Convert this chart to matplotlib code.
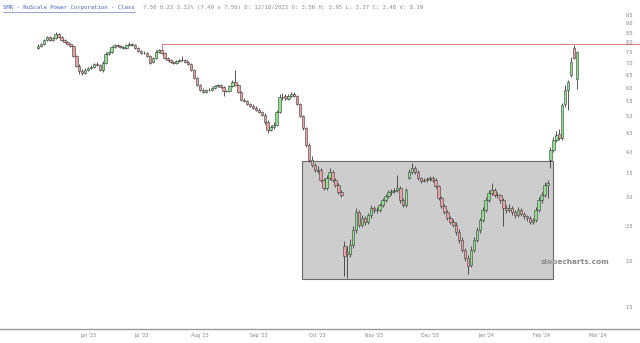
import numpy as np
import matplotlib
matplotlib.use('Agg')
import matplotlib.pyplot as plt
from matplotlib.patches import Rectangle
from matplotlib.ticker import FixedLocator, NullLocator

# Daily OHLC candles
opens = [7.70, 7.81, 7.90, 8.10, 8.27, 8.12, 8.20, 8.42, 8.27, 8.10, 8.02, 7.92, 7.80, 7.33, 6.90, 6.68,
         6.58, 6.72, 6.80, 6.85, 6.96, 6.92, 6.72, 7.02, 7.44, 7.52, 7.76, 7.86, 7.81, 7.76, 7.70, 7.86,
         7.91, 7.86, 7.70, 7.56, 7.46, 7.47, 7.33, 7.05, 7.24, 7.52, 7.60, 7.47, 7.25, 7.14, 7.06, 7.02,
         7.10, 7.15, 7.15, 7.06, 6.97, 6.71, 6.38, 6.10, 5.92, 5.84, 5.91, 5.90, 5.99, 6.06, 6.10, 6.02,
         5.87, 5.87, 6.06, 6.22, 6.10, 5.84, 5.56, 5.52, 5.41, 5.35, 5.28, 5.21, 5.14, 5.05, 4.83, 4.59,
         4.68, 4.74, 5.14, 5.66, 5.68, 5.60, 5.70, 5.78, 5.70, 5.41, 5.02, 4.65, 4.18, 3.80, 3.68, 3.55,
         3.57, 3.35, 3.18, 3.39, 3.52, 3.35, 3.24, 3.10, 2.20, 2.12, 2.10, 2.22, 2.44, 2.73, 2.52, 2.63,
         2.57, 2.68, 2.81, 2.76, 2.77, 2.86, 2.95, 3.02, 3.10, 3.12, 3.14, 3.18, 2.95, 2.86, 3.40, 3.52,
         3.61, 3.52, 3.39, 3.33, 3.35, 3.37, 3.40, 3.35, 3.22, 2.99, 2.84, 2.73, 2.63, 2.57, 2.52, 2.41,
         2.29, 2.15, 2.05, 1.96, 2.15, 2.29, 2.44, 2.60, 2.77, 2.95, 3.08, 3.14, 3.04, 3.04, 2.95, 2.81,
         2.77, 2.81, 2.73, 2.68, 2.77, 2.70, 2.66, 2.63, 2.57, 2.60, 2.77, 2.95, 3.04, 3.24, 3.80, 4.05,
         4.31, 4.48, 4.36, 5.40, 5.91, 6.50, 7.70, 6.35]
highs = [7.90, 7.95, 8.15, 8.30, 8.30, 8.25, 8.55, 8.45, 8.32, 8.15, 8.08, 7.98, 7.85, 7.38, 6.98, 6.75,
         6.78, 6.85, 6.92, 7.02, 7.05, 6.95, 7.08, 7.50, 7.58, 7.82, 7.92, 7.92, 7.86, 7.80, 7.90, 8.00,
         7.95, 7.90, 7.74, 7.62, 7.55, 7.52, 7.38, 7.30, 7.60, 7.68, 7.65, 7.50, 7.30, 7.20, 7.12, 7.15,
         7.20, 7.35, 7.18, 7.10, 7.00, 6.75, 6.42, 6.14, 5.98, 5.95, 5.98, 6.02, 6.10, 6.15, 6.14, 6.05,
         5.92, 6.10, 6.28, 6.70, 6.14, 5.88, 5.62, 5.55, 5.46, 5.40, 5.33, 5.26, 5.18, 5.10, 4.88, 4.74,
         4.82, 5.20, 5.75, 5.80, 5.75, 5.76, 5.84, 5.82, 5.73, 5.45, 5.06, 4.69, 4.22, 3.90, 3.72, 3.66,
         3.60, 3.38, 3.45, 3.62, 3.56, 3.40, 3.28, 3.14, 2.28, 2.20, 2.30, 2.50, 2.80, 2.76, 2.68, 2.66,
         2.72, 2.86, 2.84, 2.82, 2.90, 2.99, 3.06, 3.14, 3.16, 3.18, 3.45, 3.22, 2.98, 3.18, 3.58, 3.72,
         3.66, 3.56, 3.42, 3.40, 3.42, 3.44, 3.43, 3.38, 3.25, 3.02, 2.88, 2.77, 2.67, 2.61, 2.56, 2.45,
         2.33, 2.18, 2.08, 2.20, 2.34, 2.48, 2.64, 2.82, 3.00, 3.14, 3.28, 3.18, 3.10, 3.07, 2.98, 2.86,
         2.88, 2.84, 2.76, 2.82, 2.80, 2.73, 2.69, 2.66, 2.64, 2.82, 3.00, 3.10, 3.30, 3.34, 4.12, 4.38,
         4.55, 4.62, 5.45, 6.10, 6.30, 7.30, 7.85, 7.55]
lows = [7.65, 7.78, 7.85, 8.05, 8.05, 8.05, 8.15, 8.20, 8.05, 7.95, 7.85, 7.75, 7.28, 6.85, 6.55, 6.50,
        6.55, 6.68, 6.76, 6.80, 6.88, 6.65, 6.62, 6.98, 7.38, 7.48, 7.72, 7.75, 7.70, 7.65, 7.66, 7.82,
        7.80, 7.66, 7.50, 7.42, 7.40, 7.28, 6.95, 7.00, 7.20, 7.48, 7.42, 7.20, 7.10, 7.02, 6.98, 6.98,
        7.06, 7.10, 7.00, 6.92, 6.66, 6.34, 6.06, 5.88, 5.80, 5.80, 5.86, 5.86, 5.95, 6.02, 5.98, 5.70,
        5.82, 5.84, 6.02, 6.06, 5.80, 5.50, 5.48, 5.36, 5.30, 5.24, 5.17, 5.10, 5.00, 4.78, 4.50, 4.55,
        4.62, 4.70, 5.10, 5.55, 5.55, 5.56, 5.66, 5.65, 5.36, 4.97, 4.60, 4.13, 3.76, 3.64, 3.52, 3.50,
        3.30, 3.14, 3.14, 3.35, 3.30, 3.20, 3.06, 3.00, 1.82, 1.80, 2.06, 2.18, 2.40, 2.48, 2.48, 2.52,
        2.54, 2.64, 2.72, 2.72, 2.74, 2.82, 2.91, 2.98, 3.05, 3.08, 3.10, 2.90, 2.82, 2.83, 3.36, 3.48,
        3.47, 3.34, 3.28, 3.30, 3.31, 3.33, 3.30, 3.18, 2.95, 2.80, 2.70, 2.60, 2.54, 2.48, 2.37, 2.25,
        2.12, 2.00, 1.85, 1.93, 2.12, 2.26, 2.40, 2.56, 2.74, 2.92, 3.04, 3.00, 2.98, 2.90, 2.50, 2.72,
        2.74, 2.69, 2.64, 2.65, 2.66, 2.62, 2.58, 2.53, 2.54, 2.57, 2.74, 2.90, 3.00, 2.98, 3.62, 4.00,
        4.26, 4.30, 4.32, 5.30, 5.20, 6.40, 7.20, 5.95]
closes = [7.81, 7.91, 8.11, 8.27, 8.11, 8.21, 8.42, 8.27, 8.11, 8.01, 7.91, 7.81, 7.33, 6.89, 6.67, 6.58,
          6.71, 6.80, 6.84, 6.97, 6.93, 6.71, 7.02, 7.43, 7.52, 7.76, 7.86, 7.81, 7.76, 7.71, 7.86, 7.91,
          7.86, 7.71, 7.56, 7.47, 7.47, 7.33, 7.02, 7.24, 7.52, 7.61, 7.47, 7.24, 7.15, 7.06, 7.02, 7.11,
          7.15, 7.15, 7.06, 6.97, 6.71, 6.38, 6.10, 5.91, 5.84, 5.91, 5.91, 5.99, 6.06, 6.10, 6.02, 5.87,
          5.87, 6.06, 6.22, 6.10, 5.84, 5.55, 5.52, 5.41, 5.35, 5.28, 5.21, 5.14, 5.05, 4.83, 4.59, 4.68,
          4.74, 5.14, 5.66, 5.66, 5.62, 5.70, 5.77, 5.70, 5.41, 5.02, 4.65, 4.18, 3.80, 3.68, 3.57, 3.57,
          3.35, 3.18, 3.39, 3.52, 3.35, 3.24, 3.10, 3.04, 2.07, 2.10, 2.22, 2.44, 2.73, 2.52, 2.63, 2.57,
          2.68, 2.81, 2.77, 2.77, 2.86, 2.95, 3.02, 3.10, 3.12, 3.14, 3.18, 2.95, 2.86, 3.14, 3.52, 3.61,
          3.52, 3.39, 3.33, 3.35, 3.37, 3.39, 3.35, 3.22, 2.99, 2.84, 2.73, 2.63, 2.57, 2.52, 2.41, 2.29,
          2.15, 2.05, 1.94, 2.15, 2.29, 2.44, 2.60, 2.77, 2.95, 3.08, 3.14, 3.04, 3.04, 2.95, 2.81, 2.77,
          2.81, 2.73, 2.68, 2.77, 2.70, 2.66, 2.63, 2.57, 2.60, 2.77, 2.95, 3.04, 3.24, 3.29, 4.05, 4.31,
          4.45, 4.36, 5.38, 5.91, 6.22, 7.06, 7.25, 7.50]

month_ticks = [17, 35, 55, 75, 95, 114, 133, 152, 171, 190]
month_labels = ["Jun '23", "Jul '23", "Aug '23", "Sep '23", "Oct '23",
                "Nov '23", "Dec '23", "Jan '24", "Feb '24", "Mar '24"]
price_ticks = [1.5, 2.0, 2.5, 3.0, 3.5, 4.0, 4.5, 5.0, 5.5, 6.0, 6.5, 7.0, 7.5, 8.0, 8.5, 9.0, 9.5]

# annotations drawn on the chart
resist_start = 42
resist_from = 7.40
resist_level = 7.91
box_x = (89.6, 174.9)
box_y = (1.79, 3.77)

header_name = "SMR - NuScale Power Corporation - Class"
header_quote = "7.50 0.23 3.32% (7.49 x 7.50) D: 12/18/2023 O: 3.56 H: 3.95 L: 3.37 C: 3.48 V: 8.19"

GREEN = '#8fe08f'
RED = '#eaa3a3'
EDGE = '#3a3a3a'


def main():
    o = np.array(opens)
    h = np.array(highs)
    l = np.array(lows)
    c = np.array(closes)
    idx = np.arange(len(c))

    fig = plt.figure(figsize=(6.4, 3.43), dpi=100)
    ax = fig.add_axes([0, 0.0408, 1, 0.9592])
    ax.set_yscale('log')
    ax.set_xlim(-12.9, 204.4)
    ax.set_ylim(1.305, 10.44)

    # trading range box
    ax.add_patch(Rectangle((box_x[0], box_y[0]), box_x[1] - box_x[0], box_y[1] - box_y[0],
                           facecolor='#cdcdcd', edgecolor='#6a6a6a', linewidth=0.8, zorder=1))

    # candles
    up = c >= o
    ax.vlines(idx, l, h, color=EDGE, linewidth=0.6, zorder=2)
    bottom = np.minimum(o, c)
    height = np.abs(c - o)
    height = np.where(height < 0.01, 0.01, height)
    ax.bar(idx, height, bottom=bottom, width=0.85,
           color=np.where(up, GREEN, RED), edgecolor=EDGE, linewidth=0.4, zorder=3)

    # resistance line
    ax.plot([resist_start, resist_start, 205], [resist_from, resist_level, resist_level],
            color='#e07a7a', linewidth=0.7, zorder=2)

    for side in ['top', 'left', 'right']:
        ax.spines[side].set_visible(False)
    ax.spines['bottom'].set_color('#9a9a9a')
    ax.spines['bottom'].set_linewidth(1.0)

    ax.yaxis.set_major_locator(FixedLocator(price_ticks))
    ax.yaxis.set_minor_locator(NullLocator())
    ax.set_yticklabels([f'{p:.1f}' for p in price_ticks])
    ax.tick_params(axis='y', left=False, right=False, labelleft=False, labelright=True,
                   pad=-14, labelsize=3.4, labelcolor='#808080')
    ax.set_xticks(month_ticks)
    ax.set_xticklabels(month_labels)
    ax.tick_params(axis='x', length=0, pad=3, labelsize=3.3, labelcolor='#808080')

    fig.text(0.005, 0.985, header_name, fontsize=4.1, family='DejaVu Sans Mono',
             color='#4466bb', va='top', ha='left')
    fig.text(0.005 + 41 * 0.00531, 0.985, header_quote, fontsize=4.1, family='DejaVu Sans Mono',
             color='#8a8a8a', va='top', ha='left')
    fig.add_artist(plt.Line2D([0.005, 0.211], [0.965, 0.965], color='#4466bb', linewidth=0.4))

    ax.text(0.899, 0.204, 'slopecharts.com', transform=ax.transAxes, fontsize=5.3,
            fontweight='bold', color='#8a8a8a', ha='center', va='center')

    fig.savefig('out.png', dpi=100)
    plt.close(fig)


if __name__ == '__main__':
    main()
